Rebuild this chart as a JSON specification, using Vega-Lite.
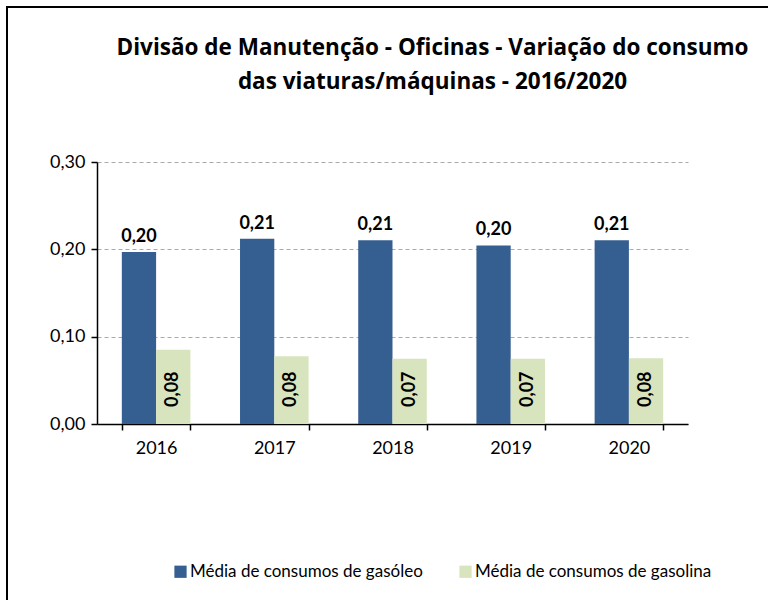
{
  "$schema": "https://vega.github.io/schema/vega-lite/v6.json",
  "autosize": "none",
  "width": 761,
  "height": 593,
  "padding": {"left": 7, "top": 7, "right": 0, "bottom": 0},
  "background": "white",
  "config": {
    "locale": {"number": {"decimal": ",", "thousands": ".", "grouping": [3], "currency": ["", " €"]}},
    "font": "Lato",
    "view": {"stroke": "black", "strokeWidth": 2, "strokeDash": [761, 1354, 593]}
  },
  "title": {
    "text": ["Divisão de Manutenção - Oficinas - Variação do consumo", "das viaturas/máquinas - 2016/2020"],
    "fontSize": 22.5,
    "fontWeight": "bold",
    "font": "Open Sans",
    "color": "black",
    "lineHeight": 34,
    "anchor": "middle",
    "dx": 45,
    "dy": -6,
    "offset": -92
  },
  "data": {
    "values": [
      {"ano": "2016", "serie": "Média de consumos de gasóleo", "valor": 0.197},
      {"ano": "2016", "serie": "Média de consumos de gasolina", "valor": 0.0849},
      {"ano": "2017", "serie": "Média de consumos de gasóleo", "valor": 0.212},
      {"ano": "2017", "serie": "Média de consumos de gasolina", "valor": 0.0775},
      {"ano": "2018", "serie": "Média de consumos de gasóleo", "valor": 0.2103},
      {"ano": "2018", "serie": "Média de consumos de gasolina", "valor": 0.0748},
      {"ano": "2019", "serie": "Média de consumos de gasóleo", "valor": 0.2045},
      {"ano": "2019", "serie": "Média de consumos de gasolina", "valor": 0.0748},
      {"ano": "2020", "serie": "Média de consumos de gasóleo", "valor": 0.2103},
      {"ano": "2020", "serie": "Média de consumos de gasolina", "valor": 0.0752}
    ]
  },
  "encoding": {
    "x": {
      "field": "ano", "type": "nominal",
      "scale": {"paddingInner": 0.42, "paddingOuter": 0.21, "range": [90, 681]},
      "axis": {
        "title": null, "labelAngle": 0, "labelFontSize": 18, "labelColor": "black", "labelFont": "Lato",
        "domainColor": "black", "domainWidth": 1.5, "tickColor": "black", "tickWidth": 1.5, "tickSize": 6,
        "tickBand": "extent", "labelPadding": 9, "offset": -176
      }
    },
    "xOffset": {"field": "serie", "type": "nominal", "scale": {"paddingInner": 0, "domain": ["Média de consumos de gasóleo", "Média de consumos de gasolina"]}},
    "y": {
      "field": "valor", "type": "quantitative",
      "scale": {"domain": [0, 0.3], "range": [417, 155]},
      "axis": {
        "title": null, "values": [0, 0.1, 0.2, 0.3], "format": ".2f", "labelFontSize": 18, "labelColor": "black",
        "labelFont": "Lato", "domainColor": "black", "domainWidth": 1.5, "tickColor": "black", "tickWidth": 1.5,
        "tickSize": 6, "labelPadding": 6, "gridColor": "#aaaaaa", "gridDash": [4, 3], "gridWidth": 1, "offset": -90
      }
    }
  },
  "layer": [
    {
      "mark": {"type": "bar"},
      "encoding": {
        "color": {
          "field": "serie", "type": "nominal",
          "scale": {"domain": ["Média de consumos de gasóleo", "Média de consumos de gasolina"], "range": ["#365F91", "#D7E4BD"]},
          "legend": {
            "title": null, "orient": "none", "direction": "horizontal", "legendX": 165, "legendY": 556,
            "symbolType": "square", "symbolSize": 150, "symbolStrokeWidth": 0, "labelFontSize": 17,
            "labelFont": "Lato", "labelColor": "black", "columnPadding": 34, "labelLimit": 400, "symbolOffset": 0, "labelOffset": 1
          }
        }
      }
    },
    {
      "transform": [{"filter": "datum.serie === 'Média de consumos de gasóleo'"}],
      "mark": {"type": "text", "baseline": "bottom", "dy": -6, "fontSize": 18, "fontWeight": "bold", "font": "Lato", "color": "black"},
      "encoding": {"text": {"field": "valor", "type": "quantitative", "format": ".2f"}}
    },
    {
      "transform": [{"filter": "datum.serie === 'Média de consumos de gasolina'"}],
      "mark": {"type": "text", "angle": 270, "align": "left", "baseline": "middle", "dx": 17, "fontSize": 18, "fontWeight": "bold", "font": "Lato", "color": "black"},
      "encoding": {
        "y": {"datum": 0},
        "text": {"field": "valor", "type": "quantitative", "format": ".2f"}
      }
    }
  ]
}
